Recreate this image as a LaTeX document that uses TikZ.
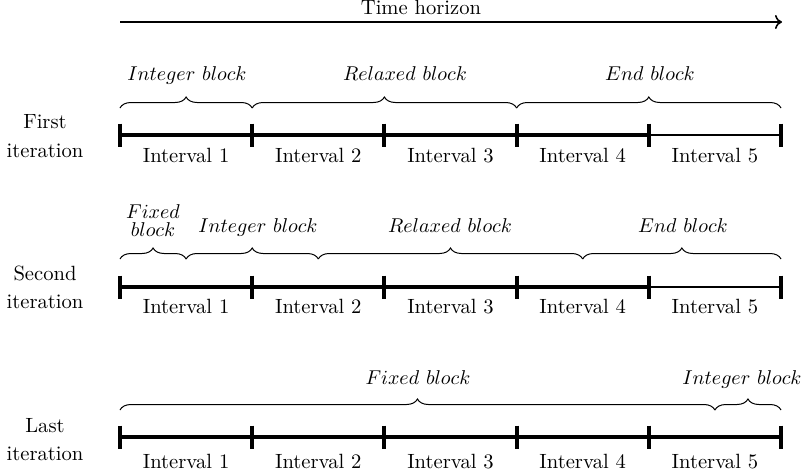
\documentclass[tikz,border=0pt]{standalone}
\usetikzlibrary{decorations.pathreplacing,arrows.meta}
\begin{document}
\begin{tikzpicture}[x=0.5pt,y=-0.5pt,
  lbl/.style={font=\fontsize{10.3}{12}\selectfont, inner sep=0pt, anchor=base},
  seg/.style={line width=2pt},
  thinseg/.style={line width=1pt},
  tickmark/.style={line width=2pt},
  blockbrace/.style={decorate, decoration={brace, amplitude=5.5pt}, line width=0.5pt},
  horizon/.style={line width=0.8pt, -{To[length=3.5pt,width=7pt]}},
]
\useasboundingbox (0,0) rectangle (807,471);

% time horizon arrow
\coordinate (hs) at (120,22);
\coordinate (he) at (782,22);
\draw[horizon] (hs) -- (he);
\node[lbl] (th) at (421,14.5) {Time horizon};

% tick points of the three timelines
\foreach \r/\y in {1/135, 2/287, 3/437} {
  \foreach \i in {0,...,5} {
    \coordinate (t\r\i) at (120+132.2*\i, \y);
  }
}

% timeline segments
\draw[seg] (t10) -- (t14);
\draw[thinseg] (t14) -- (t15);
\draw[seg] (t20) -- (t24);
\draw[thinseg] (t24) -- (t25);
\draw[seg] (t30) -- (t35);

% tick marks
\foreach \r in {1,2,3} {
  \foreach \i in {0,...,5} {
    \draw[tickmark] ([yshift=5.75pt]t\r\i) -- ([yshift=-5.75pt]t\r\i);
  }
}

% interval labels
\foreach \r/\b in {1/162, 2/313, 3/468.5} {
  \foreach \i in {1,...,5} {
    \node[lbl] (iv\r\i) at (120+132.2*\i-66.1, \b) {Interval \i};
  }
}

% iteration labels
\node[lbl] (it1a) at (45,128) {First};
\node[lbl] (it1b) at (45,157) {iteration};
\node[lbl] (it2a) at (45,280) {Second};
\node[lbl] (it2b) at (45,308) {iteration};
\node[lbl] (it3a) at (45,432) {Last};
\node[lbl] (it3b) at (45,460) {iteration};

% first iteration blocks
\coordinate (b10) at (120,108);
\coordinate (b11) at (252.2,108);
\coordinate (b12) at (516.6,108);
\coordinate (b13) at (781,108);
\draw[blockbrace] (b10) -- (b11);
\draw[blockbrace] (b11) -- (b12);
\draw[blockbrace] (b12) -- (b13);
\node[lbl] (r1int) at (187,80) {$Integer\ block$};
\node[lbl] (r1rel) at (405,80) {$Relaxed\ block$};
\node[lbl] (r1end) at (650,80) {$End\ block$};

% second iteration blocks
\coordinate (b20) at (120,259);
\coordinate (b21) at (186.1,259);
\coordinate (b22) at (318.3,259);
\coordinate (b23) at (582.7,259);
\coordinate (b24) at (781,259);
\draw[blockbrace] (b20) -- (b21);
\draw[blockbrace] (b21) -- (b22);
\draw[blockbrace] (b22) -- (b23);
\draw[blockbrace] (b23) -- (b24);
\node[lbl] (r2fixa) at (153,218) {$Fixed$};
\node[lbl] (r2fixb) at (153,236) {$block$};
\node[lbl] (r2int) at (258,232) {$Integer\ block$};
\node[lbl] (r2rel) at (450,232) {$Relaxed\ block$};
\node[lbl] (r2end) at (683,232) {$End\ block$};

% last iteration blocks
\coordinate (b30) at (120,410);
\coordinate (b31) at (714.9,410);
\coordinate (b32) at (781,410);
\draw[blockbrace] (b30) -- (b31);
\draw[blockbrace] (b31) -- (b32);
\node[lbl] (r3fix) at (418,384) {$Fixed\ block$};
\node[lbl] (r3int) at (742,384) {$Integer\ block$};
\end{tikzpicture}
\end{document}
